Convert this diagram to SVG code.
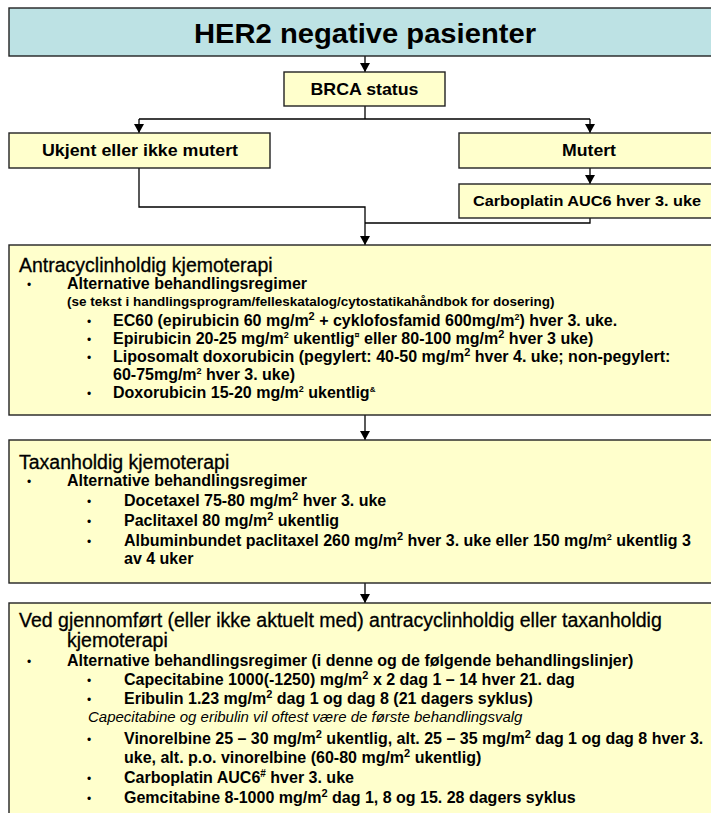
<svg xmlns="http://www.w3.org/2000/svg" width="711" height="813" viewBox="0 0 711 813">
<style>
text{font-family:"Liberation Sans",Arial,sans-serif;fill:#000}
.box{fill:#FFFFCC;stroke:#222;stroke-width:1.4}
.tbox{fill:#BDE2E4;stroke:#222;stroke-width:1.4}
.b{font-weight:bold}
.h{font-size:19.5px;stroke:#000;stroke-width:0.3}
.it{font-size:16px;font-weight:bold}
.al{font-size:16px;font-weight:bold}
.s{font-size:13.5px;font-weight:bold}
.bul{font-size:12px}
.c{text-anchor:middle}
.con{fill:none;stroke:#000;stroke-width:1.3}
</style>
<defs>
<marker id="ar" markerUnits="userSpaceOnUse" markerWidth="9" markerHeight="10" refX="9" refY="5" orient="auto">
<path d="M0,0 L9,5 L0,10 z" fill="#000"/>
</marker>
</defs>

<g id="connectors">
<path class="con" d="M365,56 V72" marker-end="url(#ar)"/>
<path class="con" d="M365,106 V119 M139,119 H590"/>
<path class="con" d="M139,119 V133" marker-end="url(#ar)"/>
<path class="con" d="M590,119 V133" marker-end="url(#ar)"/>
<path class="con" d="M590,168 V184" marker-end="url(#ar)"/>
<path class="con" d="M139,168 V207 H365 V245" marker-end="url(#ar)"/>
<path class="con" d="M590,218 V223 H365"/>
<path class="con" d="M365,415 V440" marker-end="url(#ar)"/>
<path class="con" d="M365,583 V603" marker-end="url(#ar)"/>
</g>

<g id="title">
<rect class="tbox" x="9" y="8" width="720" height="48"/>
<text class="b c" x="365" y="43" font-size="28" textLength="342" lengthAdjust="spacingAndGlyphs">HER2 negative pasienter</text>
</g>

<g id="brca">
<rect class="box" x="284" y="72" width="161" height="34"/>
<text class="b c" x="364.5" y="95" font-size="17" textLength="108" lengthAdjust="spacingAndGlyphs">BRCA status</text>
</g>

<g id="ukjent">
<rect class="box" x="9" y="133" width="261" height="35"/>
<text class="b c" x="140" y="156" font-size="17" textLength="196" lengthAdjust="spacingAndGlyphs">Ukjent eller ikke mutert</text>
</g>

<g id="mutert">
<rect class="box" x="459" y="133" width="270" height="35"/>
<text class="b c" x="589" y="156" font-size="17" textLength="54" lengthAdjust="spacingAndGlyphs">Mutert</text>
</g>

<g id="carboplatin">
<rect class="box" x="459" y="184" width="270" height="34"/>
<text class="b c" x="587" y="206" font-size="15" textLength="228" lengthAdjust="spacingAndGlyphs">Carboplatin AUC6 hver 3. uke</text>
</g>

<g id="antracyclin">
<rect class="box" x="9" y="245" width="720" height="170"/>
<text class="h" x="19" y="272">Antracyclinholdig kjemoterapi</text>
<text class="bul" x="27" y="289">•</text>
<text class="al" x="67" y="289">Alternative behandlingsregimer</text>
<text class="s" x="67" y="306">(se tekst i handlingsprogram/felleskatalog/cytostatikahåndbok for dosering)</text>
<text class="bul" x="87" y="326">•</text>
<text class="it" x="113" y="326">EC60 (epirubicin 60 mg/m<tspan dy="-6" font-size="11">2</tspan><tspan dy="6"> + cyklofosfamid 600mg/m</tspan><tspan dy="-6" font-size="9">2</tspan><tspan dy="6">) hver 3. uke.</tspan></text>
<text class="bul" x="87" y="344">•</text>
<text class="it" x="113" y="344">Epirubicin 20-25 mg/m<tspan dy="-6" font-size="9">2</tspan><tspan dy="6"> ukentlig</tspan><tspan dy="-6" font-size="9">¤</tspan><tspan dy="6"> eller 80-100 mg/m</tspan><tspan dy="-6" font-size="11">2</tspan><tspan dy="6"> hver 3 uke)</tspan></text>
<text class="bul" x="87" y="362">•</text>
<text class="it" x="113" y="362">Liposomalt doxorubicin (pegylert: 40-50 mg/m<tspan dy="-6" font-size="11">2</tspan><tspan dy="6"> hver 4. uke; non-pegylert:</tspan></text>
<text class="it" x="113" y="380">60-75mg/m<tspan dy="-6" font-size="9">2</tspan><tspan dy="6"> hver 3. uke)</tspan></text>
<text class="bul" x="87" y="398">•</text>
<text class="it" x="113" y="398">Doxorubicin 15-20 mg/m<tspan dy="-6" font-size="9">2</tspan><tspan dy="6"> ukentlig</tspan><tspan dy="-6" font-size="8">&amp;</tspan></text>
</g>

<g id="taxan">
<rect class="box" x="9" y="440" width="720" height="143"/>
<text class="h" x="19" y="469">Taxanholdig kjemoterapi</text>
<text class="bul" x="27" y="486">•</text>
<text class="al" x="67" y="486">Alternative behandlingsregimer</text>
<text class="bul" x="87" y="506">•</text>
<text class="it" x="124" y="506">Docetaxel 75-80 mg/m<tspan dy="-6" font-size="11">2</tspan><tspan dy="6"> hver 3. uke</tspan></text>
<text class="bul" x="87" y="526">•</text>
<text class="it" x="124" y="526">Paclitaxel 80 mg/m<tspan dy="-6" font-size="11">2</tspan><tspan dy="6"> ukentlig</tspan></text>
<text class="bul" x="87" y="546">•</text>
<text class="it" x="124" y="546">Albuminbundet paclitaxel 260 mg/m<tspan dy="-6" font-size="11">2</tspan><tspan dy="6"> hver 3. uke eller 150 mg/m</tspan><tspan dy="-6" font-size="9">2</tspan><tspan dy="6"> ukentlig 3</tspan></text>
<text class="it" x="124" y="564">av 4 uker</text>
</g>

<g id="ved">
<rect class="box" x="9" y="603" width="720" height="230"/>
<text class="h" x="19" y="627">Ved gjennomført (eller ikke aktuelt med) antracyclinholdig eller taxanholdig</text>
<text class="h" x="67" y="647">kjemoterapi</text>
<text class="bul" x="27" y="666">•</text>
<text class="al" x="67" y="666" font-size="15.5">Alternative behandlingsregimer (i denne og de følgende behandlingslinjer)</text>
<text class="bul" x="87" y="685">•</text>
<text class="it" x="124" y="685">Capecitabine 1000(-1250) mg/m<tspan dy="-6" font-size="11">2</tspan><tspan dy="6"> x 2 dag 1 – 14 hver 21. dag</tspan></text>
<text class="bul" x="87" y="704">•</text>
<text class="it" x="124" y="704">Eribulin 1.23 mg/m<tspan dy="-6" font-size="11">2</tspan><tspan dy="6"> dag 1 og dag 8 (21 dagers syklus)</tspan></text>
<text x="88" y="722" font-size="15" font-style="italic">Capecitabine og eribulin vil oftest være de første behandlingsvalg</text>
<text class="bul" x="87" y="744">•</text>
<text class="it" x="124" y="744">Vinorelbine 25 – 30 mg/m<tspan dy="-6" font-size="11">2</tspan><tspan dy="6"> ukentlig, alt. 25 – 35 mg/m</tspan><tspan dy="-6" font-size="11">2</tspan><tspan dy="6"> dag 1 og dag 8 hver 3.</tspan></text>
<text class="it" x="124" y="763">uke, alt. p.o. vinorelbine (60-80 mg/m<tspan dy="-6" font-size="11">2</tspan><tspan dy="6"> ukentlig)</tspan></text>
<text class="bul" x="87" y="783">•</text>
<text class="it" x="124" y="783">Carboplatin AUC6<tspan dy="-6" font-size="10">#</tspan><tspan dy="6"> hver 3. uke</tspan></text>
<text class="bul" x="87" y="803">•</text>
<text class="it" x="124" y="803">Gemcitabine 8-1000 mg/m<tspan dy="-6" font-size="11">2</tspan><tspan dy="6"> dag 1, 8 og 15. 28 dagers syklus</tspan></text>
</g>
</svg>
